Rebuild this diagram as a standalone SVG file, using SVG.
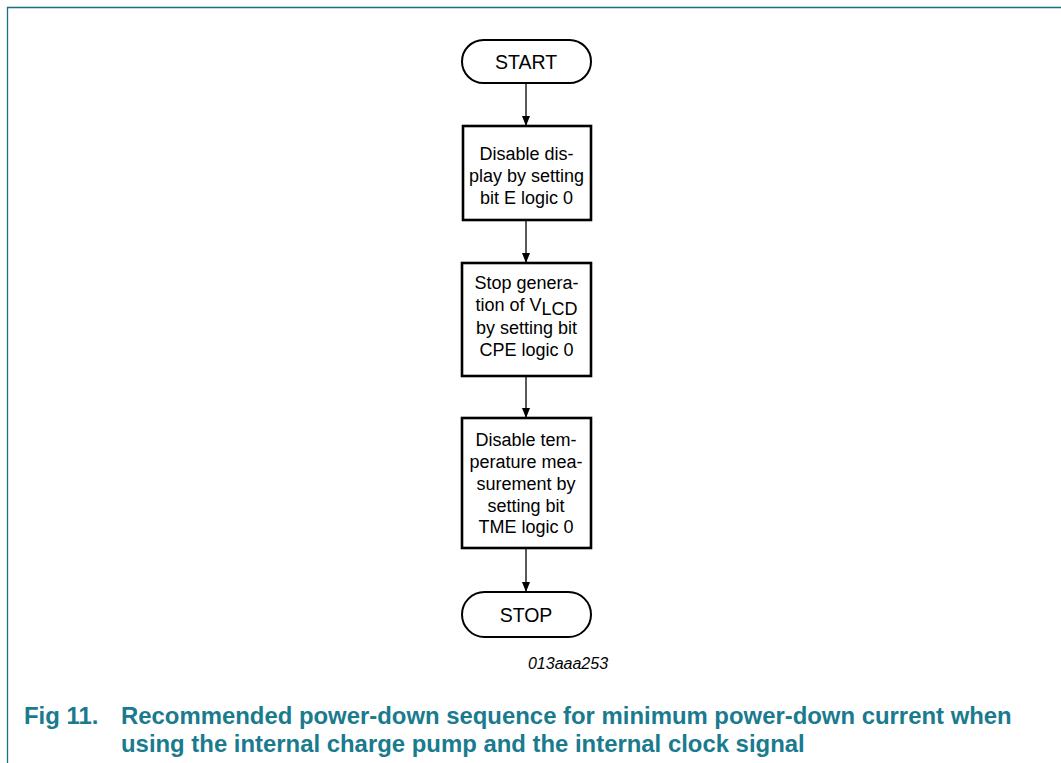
<svg xmlns="http://www.w3.org/2000/svg" width="1061" height="763" viewBox="0 0 1061 763">
<defs>
<style>
.t{font-family:"Liberation Sans",Arial,sans-serif;font-size:18px;fill:#000;text-anchor:middle}
.tt{font-family:"Liberation Sans",Arial,sans-serif;font-size:19.5px;fill:#000;text-anchor:middle}
.box{fill:#fff;stroke:#000;stroke-width:2.6}
.term{fill:#fff;stroke:#000;stroke-width:2}
.ln{stroke:#000;stroke-width:1.3;fill:none}
.cap{font-family:"Liberation Sans",Arial,sans-serif;font-size:23.9px;font-weight:bold;fill:#1a7a8e}
</style>
<marker id="ah" viewBox="0 0 10 10" refX="10" refY="5" markerWidth="10" markerHeight="10" markerUnits="userSpaceOnUse" orient="auto">
<path d="M0,1 L10,5 L0,9 Z" fill="#000"/>
</marker>
</defs>
<rect width="1061" height="763" fill="#fff"/>
<path d="M7.5,763 V7.5 H1061" fill="none" stroke="#1a6e85" stroke-width="1.3"/>
<g id="connectors">
<line class="ln" x1="526" y1="83" x2="526" y2="126" marker-end="url(#ah)"/>
<line class="ln" x1="526" y1="220" x2="526" y2="263" marker-end="url(#ah)"/>
<line class="ln" x1="526" y1="376" x2="526" y2="418" marker-end="url(#ah)"/>
<line class="ln" x1="526" y1="548" x2="526" y2="592" marker-end="url(#ah)"/>
</g>
<g id="start">
<rect class="term" x="462" y="40" width="129" height="43" rx="21.5"/>
<text class="tt" x="526" y="68.5">START</text>
</g>
<g id="n1">
<rect class="box" x="463" y="126" width="128" height="94"/>
<text class="t" x="526.5" y="159.5">Disable dis-</text>
<text class="t" x="526.5" y="181.5">play by setting</text>
<text class="t" x="526.5" y="203.5">bit E logic 0</text>
</g>
<g id="n2">
<rect class="box" x="462" y="263" width="129" height="113"/>
<text class="t" x="526.5" y="289">Stop genera-</text>
<text class="t" x="526.5" y="311">tion of V<tspan dy="4">LCD</tspan></text>
<text class="t" x="526.5" y="333.5">by setting bit</text>
<text class="t" x="526.5" y="355.5">CPE logic 0</text>
</g>
<g id="n3">
<rect class="box" x="462" y="418" width="129" height="130"/>
<text class="t" x="526" y="445.5">Disable tem-</text>
<text class="t" x="526" y="467.5">perature mea-</text>
<text class="t" x="526" y="489.5">surement by</text>
<text class="t" x="526" y="511.5">setting bit</text>
<text class="t" x="526" y="532.5">TME logic 0</text>
</g>
<g id="stop">
<rect class="term" x="462" y="592" width="129" height="45" rx="22.5"/>
<text class="tt" x="526" y="622">STOP</text>
</g>
<text x="568" y="669" font-family="Liberation Sans,Arial,sans-serif" font-size="16" font-style="italic" text-anchor="middle">013aaa253</text>
<text class="cap" x="24" y="724">Fig 11.</text>
<text class="cap" x="121" y="724">Recommended power-down sequence for minimum power-down current when</text>
<text class="cap" x="121" y="752">using the internal charge pump and the internal clock signal</text>
</svg>
